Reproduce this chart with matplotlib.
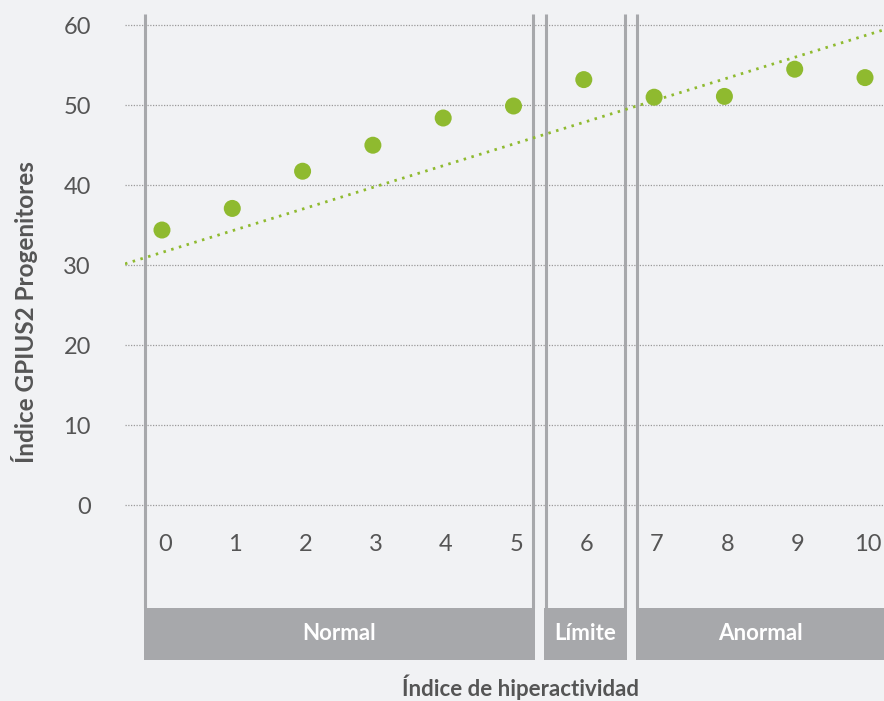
import matplotlib
matplotlib.use("Agg")
import matplotlib.pyplot as plt
from matplotlib.patches import Rectangle
import numpy as np

plt.rcParams['font.family'] = ['Lato', 'DejaVu Sans']

# Data
hiperactividad = [0, 1, 2, 3, 4, 5, 6, 7, 8, 9, 10]
gpius2 = [34.4, 37.1, 41.75, 45.0, 48.4, 49.9, 53.2, 51.0, 51.1, 54.5, 53.45]
y_ticks = [0, 10, 20, 30, 40, 50, 60]
trend_intercept = 31.6
trend_slope = 2.71
groups = ["Normal", "Límite", "Anormal"]
group_edges = [(-0.24, 5.28), (5.46, 6.59), (6.76, 10.6)]

BG = "#f1f2f4"
GREEN = "#8fba2f"
GREY = "#a7a8ab"
TEXT = "#555555"

fig = plt.figure(figsize=(8.84, 7.01), dpi=100, facecolor=BG)
ax = fig.add_axes([125/884, 1-660/701, (884-125)/884, (660-14)/701])
ax.set_facecolor(BG)
xl = (-0.526, 10.27)
yl = (-19.34, 61.4)
ax.set_xlim(*xl)
ax.set_ylim(*yl)
for s in ax.spines.values():
    s.set_visible(False)
ax.set_xticks([])
ax.set_yticks(y_ticks)
ax.tick_params(axis='y', length=0, pad=24.5, labelsize=17, labelcolor=TEXT)

for v in y_ticks:
    ax.axhline(v, color="#9a9a9a", lw=0.9, ls=(0, (1, 1.2)), zorder=1)

# group brackets
box_top, box_bot = -12.84, -19.3
half = 1.5 / 70.3
for name, (l, r) in zip(groups, group_edges):
    ax.plot([l, l], [box_top, yl[1]], color=GREY, lw=2.2, zorder=2, solid_capstyle='butt')
    if r < xl[1]:
        ax.plot([r, r], [box_top, yl[1]], color=GREY, lw=2.2, zorder=2, solid_capstyle='butt')
    ax.add_patch(Rectangle((l - half, box_bot), (r - l) + 2*half, box_top - box_bot,
                           color=GREY, lw=0, zorder=2))
    cx = (l + min(r, xl[1])) / 2
    ax.text(cx, (box_top + box_bot) / 2, name, color="white", fontsize=16,
            fontweight='bold', ha='center', va='center', zorder=3)

# x tick labels inside the plot
for x in hiperactividad:
    ax.text(x + 0.04, -4.96, str(x), ha='center', va='center', fontsize=17, color=TEXT)

# trend line
tx = np.array(xl)
ax.plot(tx, trend_intercept + trend_slope * tx, color=GREEN, lw=2.0,
        ls=(0, (0.9, 2.0)), zorder=3)

ax.scatter(hiperactividad, gpius2, s=150, color=GREEN, edgecolors='none', zorder=4)

fig.text(25/884, 1-312/701, "Índice GPIUS2 Progenitores", rotation=90,
         ha='center', va='center', fontsize=17.5, fontweight='bold', color=TEXT)
fig.text(520/884, 1-687/701, "Índice de hiperactividad", ha='center', va='center',
         fontsize=16, fontweight='bold', color=TEXT)

fig.savefig("out.png", dpi=100, facecolor=BG)
